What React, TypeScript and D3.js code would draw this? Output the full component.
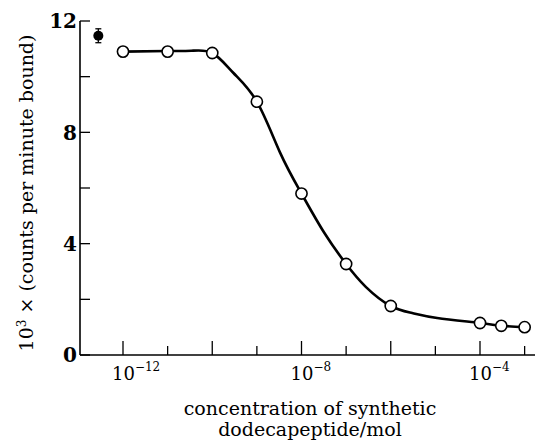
import React, { useRef, useEffect } from 'react';
import * as d3 from 'd3';

// concentration of synthetic dodecapeptide (mol) vs 10^3 x counts per minute bound
const concentrations = [1e-12, 1e-11, 1e-10, 1e-9, 1e-8, 1e-7, 1e-6, 1e-4, 3e-4, 1e-3];
const bound = [10.9, 10.9, 10.85, 9.1, 5.8, 3.27, 1.76, 1.15, 1.05, 1.0];

// hand-drawn fitted curve (log10 concentration, bound)
const curveLogConc = [-12, -11, -10.47, -10, -9.53, -9, -8.48, -8, -7.49, -7, -6.56, -6, -5.52, -4.96, -4, -3.52, -3];
const curveBound = [10.9, 10.92, 10.93, 10.85, 10.14, 9.1, 7.27, 5.8, 4.39, 3.27, 2.45, 1.76, 1.51, 1.33, 1.15, 1.05, 1.0];

// control (no peptide), plotted left of the first dilution
const controlConc = [2.8e-13];
const controlBound = [11.47];
const controlErr = [0.25];

const yTicks = [0, 2, 4, 6, 8, 10, 12];
const yLabelled = [0, 4, 8, 12];
const xTickExps = [-12, -11, -10, -9, -8, -7, -6, -5, -4, -3];
const xLabelled = [-12, -8, -4];

const W = 535;
const H = 445;

const App = () => {
  const svgRef = useRef<SVGSVGElement>(null);

  useEffect(() => {
    const svg = d3.select(svgRef.current);
    svg.selectAll('*').remove();

    const x = d3.scaleLog().domain([1e-12, 1e-4]).range([123, 480]);
    const y = d3.scaleLinear().domain([0, 12]).range([355, 21]);
    const left = 80;
    const right = W;
    const font = '"DejaVu Serif", serif';

    // axes lines
    svg.append('line')
      .attr('x1', left).attr('x2', right)
      .attr('y1', y(0)).attr('y2', y(0))
      .attr('stroke', '#000').attr('stroke-width', 1.6);
    svg.append('line')
      .attr('x1', left).attr('x2', left)
      .attr('y1', y(0)).attr('y2', y(12))
      .attr('stroke', '#000').attr('stroke-width', 1.6);

    // y ticks (inward)
    svg.selectAll('.ytick')
      .data(yTicks)
      .enter()
      .append('line')
        .attr('x1', left).attr('x2', left + 10)
        .attr('y1', d => y(d)).attr('y2', d => y(d))
        .attr('stroke', '#000').attr('stroke-width', 1.3);
    svg.selectAll('.ylab')
      .data(yLabelled)
      .enter()
      .append('text')
        .attr('x', left - 3)
        .attr('y', d => y(d))
        .attr('dy', '0.36em')
        .attr('text-anchor', 'end')
        .attr('font-family', font)
        .attr('font-weight', 'bold')
        .attr('font-size', 20)
        .text(d => d);

    // x ticks (inward), long on even decades
    svg.selectAll('.xtick')
      .data(xTickExps)
      .enter()
      .append('line')
        .attr('x1', d => x(Math.pow(10, d))).attr('x2', d => x(Math.pow(10, d)))
        .attr('y1', y(0))
        .attr('y2', d => y(0) - (d % 2 === 0 ? 14 : 9))
        .attr('stroke', '#000').attr('stroke-width', 1.3);
    const xl = svg.selectAll('.xlab')
      .data(xLabelled)
      .enter()
      .append('text')
        .attr('x', d => x(Math.pow(10, d)) - 11)
        .attr('y', 380)
        .attr('font-family', font)
        .attr('font-size', 18);
    xl.append('tspan').text('10');
    xl.append('tspan')
      .attr('dy', -9)
      .attr('font-size', 12)
      .text(d => '\u2212' + Math.abs(d));

    // fitted curve
    const curvePts = curveLogConc.map((c, i) => [Math.pow(10, c), curveBound[i]] as [number, number]);
    const line = d3.line<[number, number]>()
      .x(d => x(d[0]))
      .y(d => y(d[1]))
      .curve(d3.curveNatural);
    svg.append('path')
      .attr('d', line(curvePts))
      .attr('fill', 'none')
      .attr('stroke', '#000')
      .attr('stroke-width', 2.6);

    const pts = concentrations.map((c, i) => [c, bound[i]] as [number, number]);
    svg.selectAll('.pt')
      .data(pts)
      .enter()
      .append('circle')
        .attr('cx', d => x(d[0]))
        .attr('cy', d => y(d[1]))
        .attr('r', 5.6)
        .attr('fill', '#fff')
        .attr('stroke', '#000')
        .attr('stroke-width', 1.6);

    // control with error bar
    controlConc.forEach((c, i) => {
      const cx = x(c);
      const top = y(controlBound[i] + controlErr[i]);
      const bot = y(controlBound[i] - controlErr[i]);
      svg.append('line').attr('x1', cx).attr('x2', cx).attr('y1', top).attr('y2', bot)
        .attr('stroke', '#000').attr('stroke-width', 1.3);
      [top, bot].forEach(v => {
        svg.append('line').attr('x1', cx - 3).attr('x2', cx + 3).attr('y1', v).attr('y2', v)
          .attr('stroke', '#000').attr('stroke-width', 1.3);
      });
      svg.append('circle').attr('cx', cx).attr('cy', y(controlBound[i])).attr('r', 5).attr('fill', '#000');
    });

    // axis titles
    svg.append('text')
      .attr('transform', 'translate(33,193) rotate(-90)')
      .attr('text-anchor', 'middle')
      .attr('font-family', font)
      .attr('font-size', 19)
      .html('10<tspan dy="-7" font-size="12">3</tspan><tspan dy="7"> \u00d7 (counts per minute bound)</tspan>');

    const title = svg.append('text')
      .attr('text-anchor', 'middle')
      .attr('font-family', font)
      .attr('font-size', 19);
    title.append('tspan').attr('x', 310).attr('y', 415).text('concentration of synthetic');
    title.append('tspan').attr('x', 310).attr('y', 436).text('dodecapeptide/mol');
  }, []);

  return (
    <div style={{ position: 'absolute', left: 0, top: 0 }}>
      <svg ref={svgRef} width={W} height={H} style={{ display: 'block', background: '#fff' }}></svg>
    </div>
  );
};

export default App;
